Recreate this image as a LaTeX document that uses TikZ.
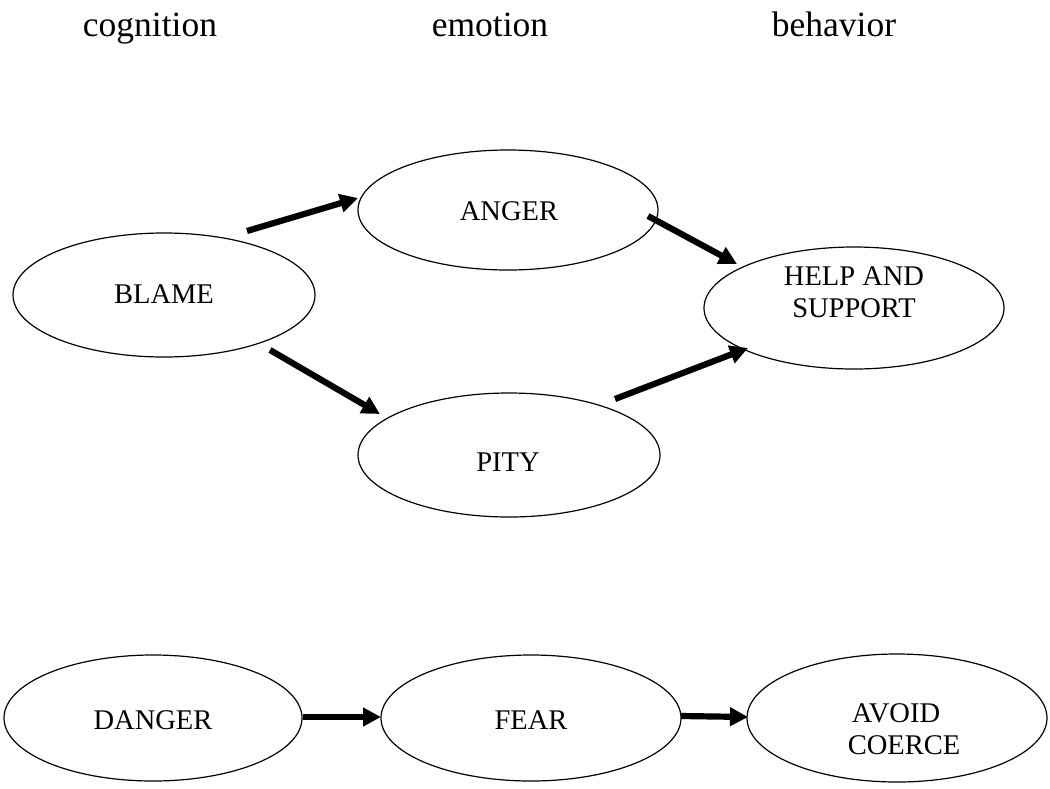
\documentclass[tikz,border=0pt]{standalone}
\usepackage{fontspec}
\setmainfont{Liberation Serif}
\usetikzlibrary{shapes.geometric,arrows.meta,calc}
\tikzset{
  oval/.style={draw, ellipse, line width=1.2pt, inner sep=0pt, outer sep=0pt},
  lbl/.style={anchor=base, inner sep=0pt, font=\fontsize{28.5}{32}\selectfont},
  hdr/.style={anchor=base, inner sep=0pt, font=\fontsize{35.5}{40}\selectfont},
  arr/.style={line width=6.2pt, -{Triangle[length=18pt,width=18pt]}}
}
\begin{document}
\begin{tikzpicture}[x=1pt,y=-1pt]
\useasboundingbox (0,0) rectangle (1050,788);
% headers
\node[hdr] (hcog) at (150,36) {cognition};
\node[hdr] (hemo) at (490,36) {emotion};
\node[hdr] (hbeh) at (834,36) {behavior};
% ellipses
\node[oval, minimum width=302pt, minimum height=124pt] (blame) at (164,295) {};
\node[oval, minimum width=300pt, minimum height=120pt] (anger) at (508,210) {};
\node[oval, minimum width=302pt, minimum height=124pt] (pity) at (509,455) {};
\node[oval, minimum width=300pt, minimum height=122pt] (help) at (854,308) {};
\node[oval, minimum width=298pt, minimum height=126pt] (danger) at (153,718) {};
\node[oval, minimum width=300pt, minimum height=126pt] (fear) at (531,718) {};
\node[oval, minimum width=300pt, minimum height=128pt] (avoid) at (897,718) {};
% texts
\node[lbl] (tblame) at (164,303) {BLAME};
\node[lbl] (tanger) at (509,220) {ANGER};
\node[lbl] (tpity) at (508,471) {PITY};
\node[lbl] (thelp1) at (854,285) {HELP AND};
\node[lbl] (thelp2) at (854,317) {SUPPORT};
\node[lbl] (tdanger) at (153,729) {DANGER};
\node[lbl] (tfear) at (531,729) {FEAR};
\node[lbl] (tavoid1) at (896,722) {AVOID};
\node[lbl] (tavoid2) at (904,754) {COERCE};
% arrows
\draw[arr] ($(blame)+(83,-64)$) -- ($(anger)+(-150,-12)$);
\draw[arr] ($(blame)+(106,55)$) -- ($(pity)+(-129,-41)$);
\draw[arr] ($(anger)+(140,6)$) -- ($(help)+(-117,-44)$);
\draw[arr] ($(pity)+(106,-56)$) -- ($(help)+(-106,40)$);
\draw[arr] ($(danger)+(150,-1)$) -- ($(fear)+(-150,-1)$);
\draw[arr] ($(fear)+(150,-2)$) -- ($(avoid)+(-149,-1)$);
\end{tikzpicture}
\end{document}
